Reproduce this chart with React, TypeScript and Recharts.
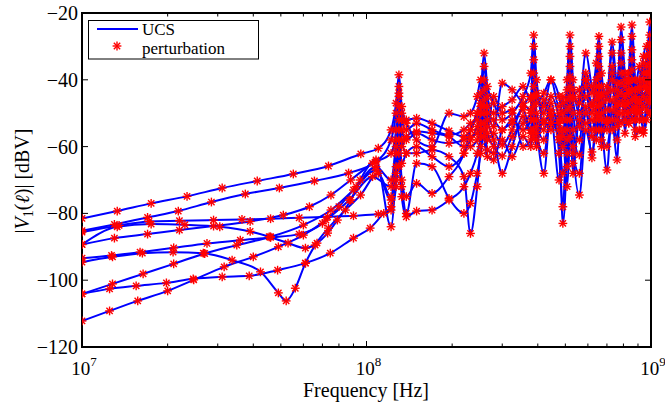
import { LineChart, Line, XAxis, YAxis, ReferenceArea } from 'recharts';

// Layout (page pixels)
const W = 665;
const H = 403;
const PLOT_LEFT = 82;
const PLOT_RIGHT = 651;
const PLOT_TOP = 13;
const PLOT_BOTTOM = 347;

const FONT = 'Liberation Serif';
const BLUE = '#0000ff';
const RED = '#ff0000';

// shared high-frequency sample grid (Hz)
const HF_FREQS = [
  1.22e8, 1.27e8, 1.3e8, 1.33e8, 1.38e8, 1.5e8, 1.7e8, 1.95e8, 2.2e8, 2.32e8,
  2.45e8, 2.52e8, 2.59e8, 2.66e8, 2.8e8, 3.0e8, 3.25e8, 3.55e8, 3.78e8, 3.87e8,
  3.96e8, 4.2e8, 4.45e8, 4.75e8, 4.9e8, 5.07e8, 5.19e8, 5.32e8, 5.6e8, 5.9e8,
  6.2e8, 6.42e8, 6.56e8, 6.7e8, 7.0e8, 7.3e8, 7.6e8, 7.85e8, 8.1e8, 8.35e8,
  8.57e8, 8.8e8, 9.1e8, 9.4e8, 9.65e8, 9.9e8, 1e9,
];

// curve A
const A_F = [1e7, 1.33e7, 1.75e7, 2.34e7, 3.11e7, 4.13e7, 5.53e7, 7.35e7, 9.55e7, 1.1e8];
const A_V = [-81.5, -79.3, -77.0, -74.9, -72.4, -70.3, -68.2, -65.8, -62.2, -60.5];
const A_HF = [
  -55, -47, -38.5, -48, -52, -51.5, -53, -55.3, -57, -55, -50, -44, -32, -42, -47, -52, -50, -45, -38, -26.6,
  -40, -50, -45, -52, -60, -40, -26.6, -40, -50, -45, -50, -40, -30, -42, -49, -43, -47, -35, -45, -38,
  -23.6, -40, -46, -42, -36, -29, -33,
];

// curve B
const B_F = [1e7, 1.3e7, 1.7e7, 2.18e7, 2.85e7, 3.75e7, 4.94e7, 6.56e7, 8.65e7, 1.08e8];
const B_V = [-85.2, -83.3, -81.2, -79.3, -76.6, -74.2, -72.4, -70.3, -67.9, -64.5];
const B_HF = [
  -58, -50, -42, -52, -55, -53, -55, -56.5, -55, -53, -52, -48, -36, -45, -50, -48, -46, -42, -46, -30,
  -44, -48, -40, -45, -50, -43, -30, -46, -54, -38, -44, -35, -27, -38, -46, -28.7, -41, -28, -40, -44,
  -31, -43, -36, -48, -40, -22.7, -30,
];

// curve C (flat)
const C_F = [1e7, 1.35e7, 1.72e7, 2.2e7, 2.9e7, 3.65e7, 4.6e7, 5.8e7, 7.3e7, 9e7, 1.1e8];
const C_V = [-85.6, -83.6, -82.4, -82.2, -82.0, -81.8, -81.6, -81.3, -81.0, -80.7, -80.2];
const C_HF = [
  -79, -72, -62, -75, -81, -79.3, -79, -76, -72, -68, -62, -57, -48, -56, -60, -62.8, -57, -53, -50, -42,
  -52, -58, -53, -58, -68, -58, -45, -55, -62.5, -50, -55, -48, -39, -47, -55, -46, -54, -41, -48, -50,
  -40, -49, -52, -45, -43, -35, -40,
];

// curve D1 (shallow dip near 6e7)
const D1_F = [1e7, 1.33e7, 1.75e7, 2.3e7, 3.05e7, 3.9e7, 4.55e7, 5.3e7, 6.1e7, 6.7e7, 7.3e7, 7.9e7, 8.8e7, 9.5e7, 1.08e8];
const D1_V = [-89.3, -84.0, -83.2, -83.4, -84.0, -85.4, -87.0, -88.9, -90.4, -88.9, -85.9, -82.0, -76.0, -70.0, -64.0];
const D1_HF = [
  -84, -66, -48, -58, -62, -62, -61, -63, -69, -86, -72, -60, -50, -58, -56, -59.5, -55, -49, -55, -45,
  -54, -68, -49, -55, -83, -62, -39, -60, -74.5, -55, -61.6, -50, -42, -52, -67, -49, -58, -44, -52, -47,
  -34, -52, -49, -55, -46, -38, -43,
];

// curve D2
const D2_F = [1e7, 1.3e7, 1.7e7, 2.2e7, 2.9e7, 3.9e7, 5.1e7, 6.3e7, 7.5e7, 8.8e7, 1.05e8];
const D2_V = [-89.3, -87.4, -86.2, -85.0, -83.8, -82.4, -80.5, -78.0, -74.5, -70.0, -65.0];
const D2_HF = [
  -62, -55, -45, -55, -58, -56, -58, -59, -58, -57, -56, -53, -40, -48, -54, -41, -43, -47, -49, -34,
  -47, -44, -40, -48, -47, -46, -33, -43, -47, -32, -42, -44, -33, -45, -44, -32, -45, -24.2, -38, -41,
  -27, -46, -40, -38, -33, -26.6, -36,
];

// curve E
const E_F = [1e7, 1.27e7, 1.6e7, 2.1e7, 2.75e7, 3.6e7, 4.6e7, 5.8e7, 7e7, 8e7, 9.2e7, 1.08e8];
const E_V = [-93.4, -92.6, -91.6, -90.3, -89.0, -88.0, -87.2, -86.2, -83.0, -78.0, -72.0, -66.0];
const E_HF = [
  -70, -60, -52, -60, -57, -55.5, -56, -57, -60, -60, -58, -55, -43, -50, -52, -55, -52, -55, -52, -38,
  -50, -55, -47, -62, -78, -49, -36, -50, -58, -42, -47, -46, -36, -50, -52, -36, -50, -32, -45, -53,
  -37, -55, -43, -52, -49, -32, -46,
];

// curve F (deep dip near 5e7)
const F_F = [1e7, 1.28e7, 1.63e7, 2.09e7, 2.67e7, 3.37e7, 4.24e7, 4.9e7, 5.22e7, 5.62e7, 6.1e7, 6.6e7, 7.35e7, 8.43e7, 9.53e7, 1.1e8];
const F_V = [-94.6, -93.0, -91.9, -91.6, -91.9, -94.0, -97.5, -103.8, -106.2, -102.4, -94.9, -89.5, -84.4, -79.0, -74.5, -68.0];
const F_HF = [
  -75, -62, -55, -65, -62, -60, -63, -66, -62, -58, -54, -50, -46, -52, -58, -68, -60, -51, -56, -48,
  -56, -62, -51, -70, -55, -52, -42, -62, -68, -48, -63.4, -52, -45, -55, -60, -52, -64, -38, -56, -44,
  -43, -57, -55, -56, -52, -41, -50,
];

// curve G1
const G1_F = [1e7, 1.28e7, 1.64e7, 2.1e7, 2.7e7, 3.5e7, 4.6e7, 6e7, 7.5e7, 9e7, 1.08e8];
const G1_V = [-104.1, -101.1, -98.1, -95.1, -92.0, -89.5, -87.0, -83.5, -79.0, -73.0, -67.0];
const G1_HF = [
  -76, -68, -58, -70, -75, -71, -74, -69, -62, -55, -50, -47, -53, -54, -45, -50, -49, -60, -58, -52,
  -58, -52, -55, -50, -52, -55, -48, -65, -52, -53, -52, -55, -48, -58, -52, -55, -43, -47, -42, -53,
  -46, -45, -50, -40, -38, -44, -38,
];

// curve G2 (flat near -100)
const G2_F = [1e7, 1.25e7, 1.55e7, 1.98e7, 2.46e7, 3.11e7, 3.87e7, 4.87e7, 6.1e7, 7.46e7, 9e7, 1.03e8, 1.15e8];
const G2_V = [-104.1, -102.6, -101.7, -100.8, -99.6, -99.0, -98.7, -97.0, -94.9, -91.9, -87.4, -84.4, -80.0];
const G2_HF = [
  -78, -70, -66, -72, -80, -65, -66, -75.5, -80, -77, -68, -62, -55, -61, -62, -58, -63, -57, -60, -55,
  -60, -46, -53, -53, -45, -66, -52, -68, -45, -40, -57, -58, -51, -60, -42, -40, -52, -50, -50, -40,
  -49, -48, -42, -35, -42, -47, -42,
];

// curve H (lowest start)
const H_F = [1e7, 1.25e7, 1.57e7, 2e7, 2.47e7, 3.16e7, 4e7, 4.9e7, 6e7, 7.2e7, 8.7e7, 1.05e8];
const H_V = [-112.2, -109.2, -106.2, -103.2, -99.9, -96.0, -93.0, -90.0, -86.5, -82.0, -76.0, -69.0];
const H_HF = [
  -72, -58, -44, -50, -53, -58, -60, -50, -51, -50, -45, -40, -57, -63, -64, -55, -53, -48, -45, -57,
  -45, -53, -50, -57, -57, -72, -57, -45, -43, -40, -48, -42, -55, -44, -53, -38, -48, -53, -47, -43,
  -52, -50, -47, -33, -30, -50, -45,
];

const X_TICKS = [
  1e7, 2e7, 3e7, 4e7, 5e7, 6e7, 7e7, 8e7, 9e7,
  1e8, 2e8, 3e8, 4e8, 5e8, 6e8, 7e8, 8e8, 9e8, 1e9,
];
const Y_TICKS = [-120, -100, -80, -60, -40, -20];

type Pt = { f: number; v: number };

const build = (lf: number[], lv: number[], hv: number[]): Pt[] => [
  ...lf.map((f, i) => ({ f, v: lv[i] })),
  ...HF_FREQS.map((f, i) => ({ f, v: hv[i] })),
];

const SERIES: Pt[][] = [
  build(A_F, A_V, A_HF),
  build(B_F, B_V, B_HF),
  build(C_F, C_V, C_HF),
  build(D1_F, D1_V, D1_HF),
  build(D2_F, D2_V, D2_HF),
  build(E_F, E_V, E_HF),
  build(F_F, F_V, F_HF),
  build(G1_F, G1_V, G1_HF),
  build(G2_F, G2_V, G2_HF),
  build(H_F, H_V, H_HF),
];

const textStyle = { fontFamily: FONT };

function Asterisk({ cx, cy }: { cx: number; cy: number }) {
  const r = 4.4;
  const d = r * 0.72;
  return (
    <g stroke={RED} strokeWidth={1.4}>
      <line x1={cx - r} y1={cy} x2={cx + r} y2={cy} />
      <line x1={cx} y1={cy - r} x2={cx} y2={cy + r} />
      <line x1={cx - d} y1={cy - d} x2={cx + d} y2={cy + d} />
      <line x1={cx - d} y1={cy + d} x2={cx + d} y2={cy - d} />
    </g>
  );
}

function XTick(props: any) {
  const { x, payload } = props;
  const exp = Math.log10(payload.value);
  const major = Math.abs(exp - Math.round(exp)) < 1e-6;
  const len = major ? 6 : 3.5;
  return (
    <g>
      <line x1={x} x2={x} y1={PLOT_BOTTOM} y2={PLOT_BOTTOM - len} stroke="#000" strokeWidth={1} />
      <line x1={x} x2={x} y1={PLOT_TOP} y2={PLOT_TOP + len} stroke="#000" strokeWidth={1} />
      {major && (
        <text x={x + 2} y={PLOT_BOTTOM + 28} textAnchor="middle" style={textStyle} fontSize={19} fill="#000">
          10
          <tspan dy={-9} fontSize={13}>{Math.round(exp)}</tspan>
        </text>
      )}
    </g>
  );
}

function YTick(props: any) {
  const { y, payload } = props;
  const v = payload.value as number;
  return (
    <g>
      <line x1={PLOT_LEFT} x2={PLOT_LEFT + 6} y1={y} y2={y} stroke="#000" strokeWidth={1} />
      <line x1={PLOT_RIGHT - 6} x2={PLOT_RIGHT} y1={y} y2={y} stroke="#000" strokeWidth={1} />
      <text x={78} y={y + 7} textAnchor="end" style={textStyle} fontSize={20} fill="#000">
        {v < 0 ? `\u2212${Math.abs(v)}` : `${v}`}
      </text>
    </g>
  );
}

export default function App() {
  return (
    <div style={{ position: 'absolute', left: 0, top: 0, width: W, height: H, background: '#fff' }}>
      <LineChart
        width={W}
        height={H}
        margin={{ top: PLOT_TOP, right: W - PLOT_RIGHT, bottom: 0, left: 0 }}
      >
        <XAxis
          dataKey="f"
          type="number"
          scale="log"
          domain={[1e7, 1e9]}
          allowDataOverflow
          ticks={X_TICKS}
          interval={0}
          height={H - PLOT_BOTTOM}
          tick={<XTick />}
          tickLine={false}
          axisLine={false}
        />
        <YAxis
          type="number"
          domain={[-120, -20]}
          allowDataOverflow
          ticks={Y_TICKS}
          interval={0}
          width={PLOT_LEFT}
          tick={<YTick />}
          tickLine={false}
          axisLine={false}
        />
        {SERIES.map((d, i) => (
          <Line
            key={`ucs-${i}`}
            data={d}
            dataKey="v"
            type="monotone"
            stroke={BLUE}
            strokeWidth={2}
            dot={false}
            activeDot={false}
            isAnimationActive={false}
          />
        ))}
        {SERIES.map((d, i) => (
          <Line
            key={`pert-${i}`}
            data={d}
            dataKey="v"
            stroke="none"
            dot={(p: any) => <Asterisk key={`m-${i}-${p.index}`} cx={p.cx} cy={p.cy} />}
            activeDot={false}
            isAnimationActive={false}
          />
        ))}
        <ReferenceArea x1={1e7} x2={1e9} y1={-120} y2={-20} fill="none" stroke="#000" strokeWidth={2} />
      </LineChart>

      <svg
        width={W}
        height={H}
        style={{ position: 'absolute', left: 0, top: 0, pointerEvents: 'none' }}
      >
        {/* legend */}
        <rect x={88.5} y={20.5} width={170} height={38.5} fill="#fff" stroke="#000" strokeWidth={1} />
        <line x1={97} x2={138} y1={29} y2={29} stroke={BLUE} strokeWidth={2} />
        <text x={142} y={34.5} style={textStyle} fontSize={17} fill="#000">UCS</text>
        <Asterisk cx={117} cy={46} />
        <text x={142} y={53.5} style={textStyle} fontSize={17} fill="#000">perturbation</text>

        {/* axis titles */}
        <text x={366} y={397} textAnchor="middle" style={textStyle} fontSize={20} fill="#000">
          Frequency [Hz]
        </text>
        <text
          transform="translate(29,181) rotate(-90)"
          textAnchor="middle"
          style={textStyle}
          fontSize={20}
          fill="#000"
        >
          |<tspan fontStyle="italic">V</tspan>
          <tspan fontSize={14} dy={4}>1</tspan>
          <tspan dy={-4}>(</tspan>
          <tspan fontStyle="italic">ℓ</tspan>)| [dBV]
        </text>
      </svg>
    </div>
  );
}
